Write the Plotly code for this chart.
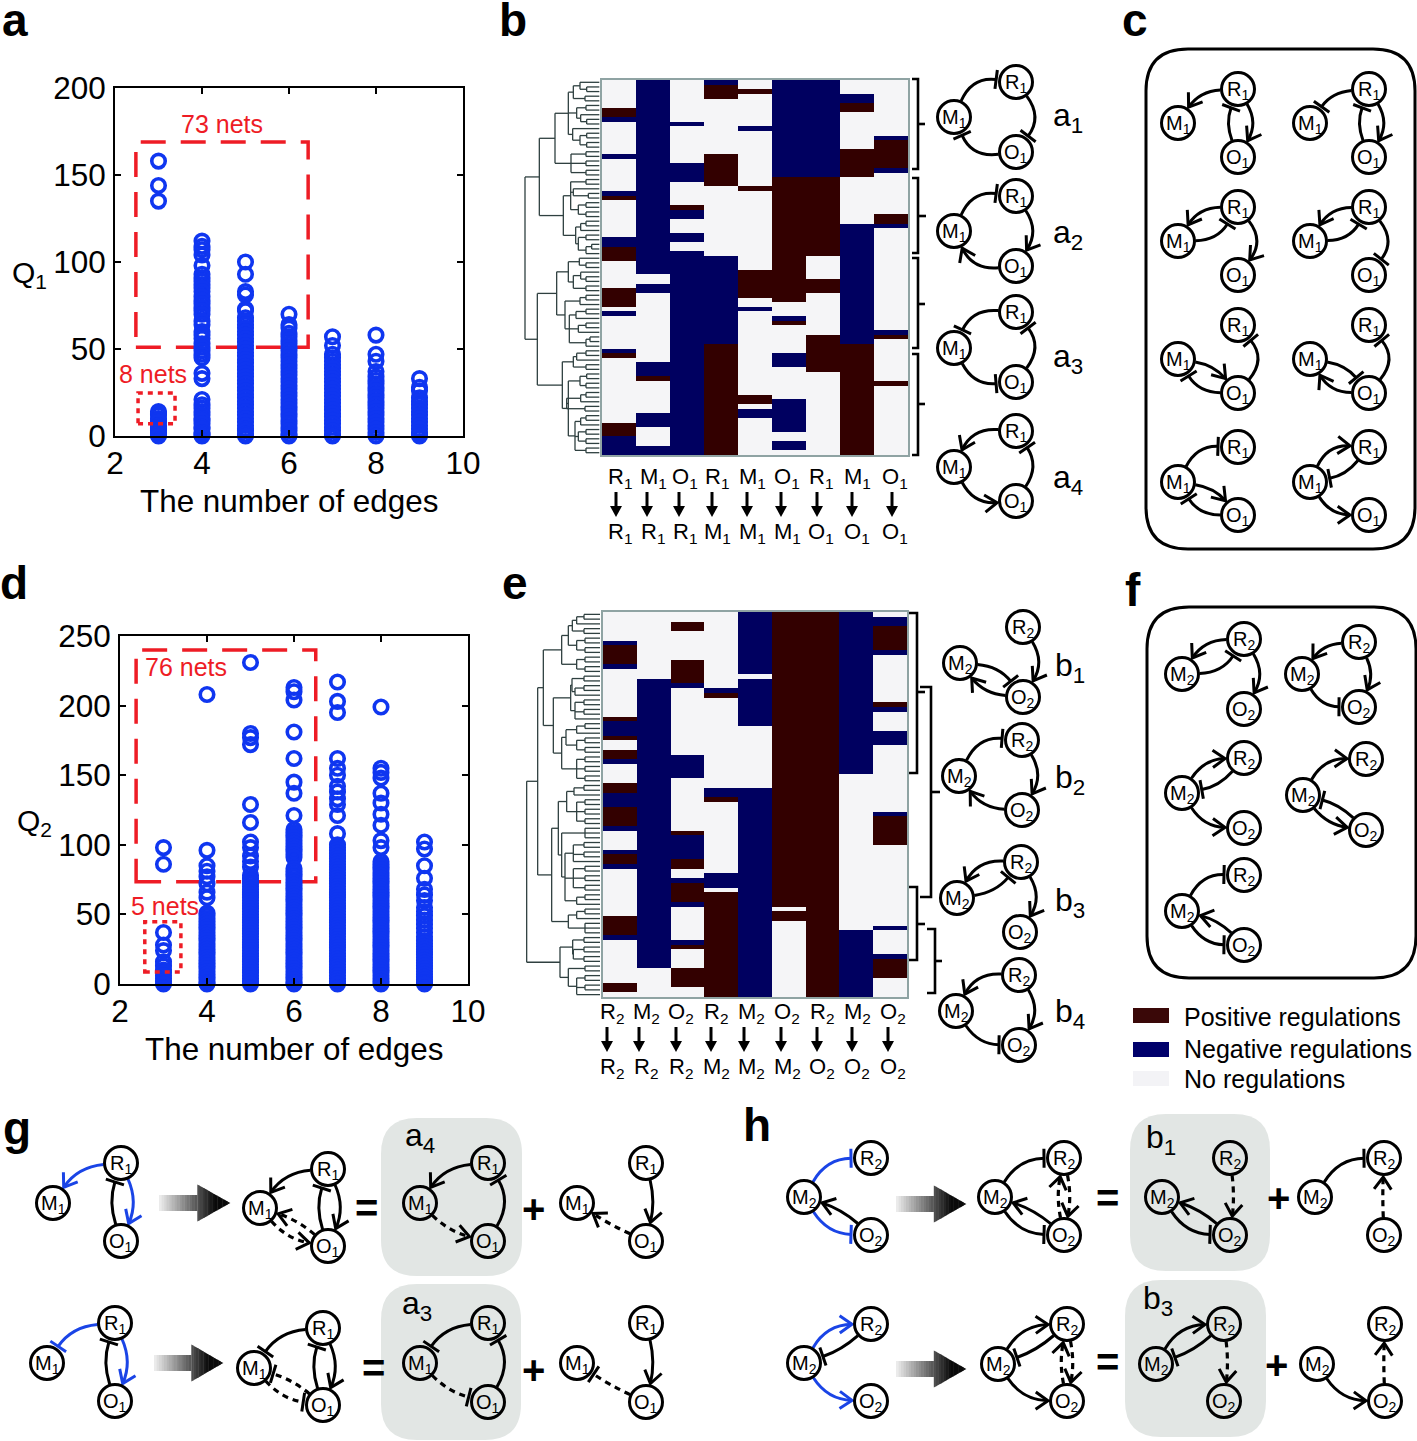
import math
import plotly.graph_objects as go

W, H = 1417, 1441
FONT = "Liberation Sans"
RED = "#ee1c25"
BLUE = "#0f36f0"
EDGE_BLUE = "#1a44e6"
POS, NEG, NONE = "#330000", "#000060", "#f5f5f7"

# ---------- scatter panels: number of edges -> Q values ----------
EDGES = [3, 4, 5, 6, 7, 8, 9]
Q1_3 = [158, 144, 135, 14, 13, 12, 10, 9, 8, 6, 5, 4, 3, 2, 1, 0]
Q1_4 = [112, 109, 107, 104, 98, 93, 91, 89, 87, 85, 83, 80, 78, 76, 74, 72, 70, 66, 64, 60, 58, 56, 53, 51, 49, 47, 45,
        36, 33, 21, 18, 16, 14, 12, 10, 9, 7, 5, 4, 2, 1, 0]
Q1_5 = [100, 93, 83, 81, 73, 72, 68, 66, 64, 62, 60, 58, 56, 54, 52, 50, 48, 46, 44, 42, 40, 38, 36, 34, 32, 30, 28, 26,
        24, 22, 20, 18, 16, 14, 12, 10, 8, 6, 4, 3, 1, 0]
Q1_6 = [70, 64, 62, 59, 57, 55, 53, 51, 49, 47, 45, 43, 41, 39, 37, 35, 33, 31, 29, 27, 25, 23, 21, 19, 17, 15, 13, 11,
        9, 7, 5, 3, 1, 0]
Q1_7 = [57, 52, 47, 45, 43, 41, 39, 37, 35, 33, 31, 29, 27, 25, 23, 21, 19, 17, 15, 13, 11, 9, 7, 5, 3, 1, 0]
Q1_8 = [58, 47, 43, 37, 34, 32, 30, 28, 26, 24, 22, 20, 18, 16, 14, 12, 10, 8, 6, 4, 2, 0]
Q1_9 = [33, 28, 26, 22, 20, 18, 16, 14, 12, 10, 8, 6, 4, 2, 1, 0]
Q1_ALL = [Q1_3, Q1_4, Q1_5, Q1_6, Q1_7, Q1_8, Q1_9]

Q2_3 = [98, 86, 37, 28, 24, 16, 13, 10, 8, 6, 4, 2, 0]
Q2_4 = [208, 96, 85, 81, 77, 72, 66, 62, 51, 49, 47, 45, 43, 41, 39, 37, 35, 33, 31, 29, 27, 25, 23, 21, 19, 17, 15, 13,
        11, 9, 7, 5, 3, 1, 0]
Q2_5 = [231, 180, 177, 172, 129, 116, 102, 98, 92, 88, 84, 78, 76, 74, 72, 70, 68, 66, 64, 62, 60, 58, 56, 54, 52, 50, 48,
        46, 44, 42, 40, 38, 36, 34, 32, 30, 28, 26, 24, 22, 20, 18, 16, 14, 12, 10, 8, 6, 4, 2, 0]
Q2_6 = [213, 210, 204, 181, 162, 145, 137, 121, 111, 109, 107, 105, 103, 101, 99, 97, 95, 93, 91, 83, 81, 79, 77, 75, 73,
        71, 69, 67, 65, 63, 61, 59, 57, 55, 53, 51, 49, 47, 45, 43, 41, 39, 37, 35, 33, 31, 29, 27, 25, 23, 21, 19, 17, 15,
        13, 11, 9, 7, 5, 3, 1, 0]
Q2_7 = [217, 203, 195, 162, 155, 150, 142, 138, 133, 129, 121, 108, 100, 98, 96, 94, 92, 90, 88, 86, 84, 82, 80, 78, 76,
        74, 72, 70, 68, 66, 64, 62, 60, 58, 56, 54, 52, 50, 48, 46, 44, 42, 40, 38, 36, 34, 32, 30, 28, 26, 24, 22, 20, 18,
        16, 14, 12, 10, 8, 6, 4, 2, 0]
Q2_8 = [199, 155, 152, 148, 137, 130, 122, 114, 103, 98, 88, 86, 84, 82, 80, 78, 76, 74, 72, 70, 68, 66, 64, 62, 60, 58,
        56, 54, 52, 50, 48, 46, 44, 42, 40, 38, 36, 34, 32, 30, 28, 26, 24, 22, 20, 18, 16, 14, 12, 10, 8, 6, 4, 2, 0]
Q2_9 = [102, 97, 85, 76, 68, 64, 60, 55, 52, 49, 46, 43, 40, 37, 34, 31, 29, 27, 25, 23, 21, 19, 17, 15, 13, 11, 9, 7, 5,
        3, 1, 0]
Q2_ALL = [Q2_3, Q2_4, Q2_5, Q2_6, Q2_7, Q2_8, Q2_9]

# dashed / dotted selection boxes in axis units: x0, x1, y0, y1
BOX_A_BIG = [2.48, 6.44, 51, 169]
BOX_A_SMALL = [2.53, 3.38, 7, 24.7]
BOX_D_BIG = [2.37, 6.5, 73.5, 240]
BOX_D_SMALL = [2.57, 3.4, 8.6, 44.7]

# ---------- heatmaps: (value, number of rows) runs per column ----------
P, N, O = 1, -1, 0
HB = [
    [(O,6),(P,2),(N,1),(O,7),(N,1),(O,7),(N,1),(P,1),(O,8),(N,2),(P,3),(O,6),(P,4),(O,1),(N,1),(O,7),(N,1),(P,1),(O,14),(P,3),(N,4)],
    [(N,42),(O,2),(N,2),(O,15),(N,3),(P,1),(O,7),(N,3),(O,4),(N,2)],
    [(O,9),(N,1),(O,8),(N,4),(O,5),(P,1),(N,2),(O,3),(N,2),(O,2),(N,44)],
    [(N,1),(P,3),(O,12),(P,7),(O,15),(N,19),(P,24)],
    [(O,2),(P,1),(O,7),(N,1),(O,12),(P,1),(O,17),(P,6),(O,2),(N,1),(O,18),(P,2),(O,1),(N,2),(O,8)],
    [(N,21),(P,27),(O,3),(N,1),(P,1),(O,6),(N,3),(O,7),(N,7),(O,2),(N,2),(O,1)],
    [(N,21),(P,17),(O,5),(P,3),(O,9),(P,8),(O,18)],
    [(O,3),(N,2),(P,2),(O,8),(P,6),(O,10),(N,26),(P,24)],
    [(O,12),(N,1),(P,6),(N,1),(O,9),(P,2),(N,1),(O,22),(N,1),(P,1),(O,9),(P,1),(O,15)],
]
HE = [
    [(O,6),(N,1),(P,4),(N,1),(O,10),(P,1),(N,3),(P,1),(O,2),(P,2),(N,1),(O,4),(P,2),(N,3),(P,4),(N,1),(O,4),(N,1),(P,2),(N,1),(O,10),(P,4),(N,1),(O,9),(P,2),(O,1)],
    [(O,14),(N,61),(O,6)],
    [(O,2),(P,2),(O,6),(P,5),(N,1),(O,14),(N,5),(O,11),(P,1),(N,5),(P,2),(O,2),(N,1),(P,4),(N,1),(O,7),(N,1),(P,1),(O,4),(P,4),(O,2)],
    [(O,16),(N,1),(P,1),(O,19),(N,2),(P,1),(O,15),(N,3),(O,1),(P,22)],
    [(N,13),(O,1),(N,10),(O,13),(N,44)],
    [(P,62),(O,1),(P,2),(O,16)],
    [(P,81)],
    [(N,34),(O,33),(N,14)],
    [(O,1),(N,2),(P,5),(N,1),(O,10),(P,1),(N,1),(O,4),(N,3),(O,14),(N,1),(P,6),(O,17),(N,1),(O,5),(N,1),(P,4),(O,4)],
]

# ---------- dendrograms: [height, child, child, ...]; 0 is a leaf ----------
A1 = [135, [175, [190, [210, 0, [230, 0, 0]], [225, 0, 0]], [200, [228, 0, 0], [212, 0, [230, 0, 0]]], [188, 0, [210, [230, 0, 0], [230, 0, 0]]]],
      [183, [228, 0, 0], [228, 0, 0], [228, 0, 0]]]
A2 = [160, [182, [228, 0, 0], [190, 0, [235, 0, 0]], [205, [228, 0, 0], [228, 0, 0]]],
      [197, [212, [228, 0, 0], 0], [205, [228, 0, 0], [228, [245, 0, 0], 0]]]]
A3 = [140, [175, [208, 0, [228, 0, 0]], [190, [212, 0, [228, 0, 0]], [228, 0, 0]]],
      [165, [210, [228, 0, 0], 0], [178, [198, [228, 0, 0], 0], [205, [228, 0, 0], 0], [228, [240, 0, 0], 0]]]]
A4 = [157, [190, [200, [228, 0, 0], 0], [228, 0, 0]],
      [175, [210, [230, 0, 0], [228, 0, 0]], [170, [212, [228, 0, 0], 0], [225, 0, 0]],
       [195, [212, [228, 0, 0], 0], [205, [228, 0, 0], [228, 0, 0]], [228, 0, 0]]]]
TREE_B = [45, [88, A1, A2], [82, A3, A4]]
TREE_B_LEAF = 268

E1 = [155, [175, [187, [200, [222, 0, 0], 0], [222, 0, 0]], [200, [225, 0, 0], [225, 0, 0]]], [200, [225, 0, 0], [225, 0, 0]]]
E2 = [182, [186, [222, 0, 0], [195, [222, 0, 0], 0]], [195, [222, 0, 0], [222, 0, 0], 0]]
E3 = [155, [168, [200, [225, 0, 0], 0], [200, [225, 0, 0], [225, 0, 0]]], [200, [225, 0, 0], [225, 0, 0], [225, 0, 0]]]
E4 = [170, [192, [222, 0, 0], 0], [200, [225, 0, 0], [225, 0, 0], [225, 0, 0]]]
E5 = [155, [225, 0, 0, 0], [165, [190, [222, 0, 0], [222, 0, 0], 0], [190, [225, 0, 0], [225, 0, 0], [225, 0, 0]], [200, [225, 0, 0], 0]]]
E6 = [175, [200, [225, 0, 0], 0], [225, 0, 0, 0]]
E7 = [150, [188, [222, 0, 0], [190, [222, 0, 0], [222, 0, 0]]], [175, [225, 0, 0], [200, [225, 0, 0], [225, 0, 0], 0]]]
TREE_E = [50, [83, [100, E1, [130, E2, E3]], [125, [145, E4, E5], E6]], E7]
TREE_E_LEAF = 272

# ---------- heatmap column labels ----------
HEAD_LETTERS = ["R", "M", "O", "R", "M", "O", "R", "M", "O"]
TAIL_LETTERS = ["R", "R", "R", "M", "M", "M", "O", "O", "O"]
B_LABEL_X = [620, 653, 685, 717, 752, 787, 821, 857, 895]
B_ARROW_X = [616, 647, 679, 712, 747, 781, 817, 852, 892]
E_LABEL_X = [612, 646, 681, 716, 751, 787, 822, 857, 893]
E_ARROW_X = [607, 639, 676, 711, 744, 781, 817, 852, 888]

# ---------- cluster brackets: x_open, x_spine, x_tick, y_top, y_tick, y_bottom ----------
BRACKETS = [
    (912, 918, 925, 79, 124, 169), (912, 918, 926, 178, 216, 253), (912, 918, 925, 258, 304, 348), (912, 918, 925, 354, 404, 455),
    (909, 917, 925, 613, 692, 773), (920, 931, 940, 687, 792, 897), (909, 917, 925, 887, 924, 960), (927, 935, 942, 929, 961, 993),
]

# ---------- networks: subscript, R, M, O, edges (from, to, kind, bend, style) ----------
NETS = [
    # series a
    (1, (1016, 82), (954, 117), (1016, 152), [("M","R","t",17,"k"), ("R","O","t",17,"k"), ("O","M","t",17,"k")]),
    (1, (1016, 196), (954, 231), (1016, 266), [("M","R","t",17,"k"), ("R","O","a",15,"k"), ("O","M","a",16,"k")]),
    (1, (1016, 312), (954, 348), (1016, 382), [("R","M","t",-16,"k"), ("M","O","t",-15,"k"), ("O","R","t",-17,"k")]),
    (1, (1016, 431), (954, 467), (1016, 501), [("R","M","a",-16,"k"), ("M","O","a",-15,"k"), ("O","R","t",-15,"k")]),
    # box c
    (1, (1238, 89), (1178, 123), (1238, 157), [("R","M","a",-11,"k"), ("O","R","t",8,"k"), ("R","O","a",13,"k")]),
    (1, (1369, 89), (1310, 123), (1369, 157), [("R","M","t",-10,"k"), ("O","R","t",8,"k"), ("R","O","a",13,"k")]),
    (1, (1238, 207), (1178, 241), (1238, 275), [("R","M","a",-12,"k"), ("M","R","t",-12,"k"), ("R","O","a",17,"k")]),
    (1, (1369, 207), (1310, 241), (1369, 275), [("R","M","a",-12,"k"), ("M","R","t",-12,"k"), ("R","O","t",17,"k")]),
    (1, (1238, 325), (1178, 359), (1238, 393), [("O","R","t",-18,"k"), ("M","O","a",8,"k"), ("O","M","t",12,"k")]),
    (1, (1369, 325), (1310, 359), (1369, 393), [("O","R","t",-18,"k"), ("M","O","t",8,"k"), ("O","M","a",12,"k")]),
    (1, (1238, 447), (1178, 482), (1238, 515), [("M","R","t",14,"k"), ("M","O","a",8,"k"), ("O","M","t",12,"k")]),
    (1, (1369, 447), (1310, 482), (1369, 515), [("M","R","a",15,"k"), ("R","M","t",8,"k"), ("M","O","a",-12,"k")]),
    # series b
    (2, (1023, 627), (960, 663), (1023, 697), [("R","O","a",14,"k"), ("M","O","t",10,"k"), ("O","M","a",10,"k")]),
    (2, (1022, 740), (959, 776), (1022, 810), [("M","R","t",16,"k"), ("R","O","a",14,"k"), ("O","M","a",11,"k")]),
    (2, (1021, 862), (957, 898), (1020, 932), [("R","M","a",-15,"k"), ("M","R","t",-9,"k"), ("R","O","a",14,"k")]),
    (2, (1019, 975), (956, 1011), (1019, 1045), [("R","M","a",-15,"k"), ("R","O","a",14,"k"), ("M","O","t",-12,"k")]),
    # box f
    (2, (1244, 639), (1182, 674), (1244, 709), [("R","M","a",-12,"k"), ("M","R","t",-12,"k"), ("R","O","a",14,"k")]),
    (2, (1359, 642), (1302, 674), (1359, 707), [("R","M","a",-10,"k"), ("R","O","a",10,"k"), ("M","O","t",-12,"k")]),
    (2, (1244, 758), (1182, 793), (1244, 828), [("M","R","a",12,"k"), ("R","M","t",8,"k"), ("M","O","a",-12,"k")]),
    (2, (1366, 759), (1303, 795), (1366, 830), [("M","R","a",14,"k"), ("O","M","t",-6,"k"), ("M","O","a",-9,"k")]),
    (2, (1244, 875), (1182, 911), (1244, 945), [("M","R","t",14,"k"), ("O","M","a",-6,"k"), ("M","O","t",-12,"k")]),
    # panel g
    (1, (121, 1163), (53, 1203), (121, 1241), [("R","M","a",-12,"b"), ("O","R","t",8,"k"), ("R","O","a",11,"b")]),
    (1, (328, 1169), (260, 1208), (328, 1246), [("R","M","a",-12,"k"), ("O","R","t",8,"k"), ("R","O","a",11,"k"), ("O","M","a",-5,"d"), ("M","O","a",-9,"d")]),
    (1, (488, 1163), (420, 1203), (488, 1241), [("R","M","a",-12,"k"), ("O","R","t",-15,"k"), ("M","O","a",-7,"d")]),
    (1, (646, 1163), (577, 1203), (646, 1241), [("R","O","a",6,"k"), ("O","M","a",2,"d")]),
    (1, (115, 1323), (47, 1363), (115, 1401), [("R","M","t",-12,"b"), ("O","R","t",8,"k"), ("R","O","a",11,"b")]),
    (1, (323, 1328), (254, 1368), (323, 1405), [("R","M","t",-12,"k"), ("O","R","t",8,"k"), ("R","O","a",11,"k"), ("O","M","t",-5,"d"), ("M","O","t",-9,"d")]),
    (1, (488, 1323), (420, 1363), (488, 1402), [("R","M","t",-12,"k"), ("O","R","t",-15,"k"), ("M","O","t",-7,"d")]),
    (1, (646, 1323), (577, 1363), (646, 1402), [("R","O","a",6,"k"), ("O","M","t",2,"d")]),
    # panel h
    (2, (871, 1158), (804, 1197), (871, 1235), [("M","R","t",14,"b"), ("O","M","a",-5,"k"), ("M","O","t",-13,"b")]),
    (2, (1064, 1158), (995, 1197), (1064, 1235), [("M","R","t",14,"k"), ("O","M","a",-5,"k"), ("M","O","t",-13,"k"), ("R","O","a",5,"d"), ("O","R","a",5,"d")]),
    (2, (1230, 1158), (1162, 1197), (1230, 1235), [("R","O","a",3,"d"), ("O","M","a",-5,"k"), ("M","O","t",-13,"k")]),
    (2, (1384, 1158), (1315, 1197), (1384, 1235), [("M","R","t",14,"k"), ("O","R","a",1,"d")]),
    (2, (871, 1324), (804, 1363), (871, 1401), [("M","R","a",14,"b"), ("R","M","t",5,"k"), ("M","O","a",-13,"b")]),
    (2, (1067, 1324), (998, 1364), (1067, 1401), [("M","R","a",14,"k"), ("R","M","t",5,"k"), ("M","O","a",-13,"k"), ("R","O","a",5,"d"), ("O","R","a",5,"d")]),
    (2, (1224, 1324), (1156, 1364), (1224, 1401), [("M","R","a",14,"k"), ("R","M","t",5,"k"), ("R","O","a",3,"d")]),
    (2, (1385, 1324), (1317, 1364), (1385, 1401), [("M","O","a",-13,"k"), ("O","R","a",1,"d")]),
]
BEND_SCALE = 0.78

# rounded panels: x0, x1, y0, y1, corner, stroke, fill
PANELS = [
    (1146, 1415, 49, 549, 42, "black", "rgba(0,0,0,0)"),
    (1147, 1416, 607, 978, 42, "black", "rgba(0,0,0,0)"),
    (381, 522, 1118, 1276, 36, None, "#e2e6e4"),
    (381, 521, 1284, 1440, 36, None, "#e2e6e4"),
    (1130, 1270, 1114, 1271, 36, None, "#e2e6e4"),
    (1125, 1266, 1280, 1437, 36, None, "#e2e6e4"),
]

# gradient block arrows: x0, x1, y centre
BLOCK_ARROWS = [(159, 230, 1203), (154, 223, 1363), (896, 966, 1204), (896, 966, 1369)]

# plain text: text, x, y, size, colour, bold
TEXTS = [
    ("a", 15, 20, 46, "black", True), ("b", 513, 20, 46, "black", True), ("c", 1135, 20, 46, "black", True),
    ("d", 14, 583, 46, "black", True), ("e", 515, 583, 46, "black", True), ("f", 1133, 590, 46, "black", True),
    ("g", 17, 1128, 46, "black", True), ("h", 757, 1125, 46, "black", True),
    ("The number of edges", 289, 501, 31.4, "black", False), ("The number of edges", 294, 1049, 31.4, "black", False),
    ("Q<sub>1</sub>", 29, 274, 30, "black", False), ("Q<sub>2</sub>", 34, 822, 30, "black", False),
    ("73 nets", 222, 124, 25, RED, False), ("8 nets", 153, 374, 25, RED, False),
    ("76 nets", 186, 667, 25, RED, False), ("5 nets", 165, 906, 25, RED, False),
    ("a<sub>1</sub>", 1068, 117, 32, "black", False), ("a<sub>2</sub>", 1068, 234, 32, "black", False),
    ("a<sub>3</sub>", 1068, 358, 32, "black", False), ("a<sub>4</sub>", 1068, 479, 32, "black", False),
    ("b<sub>1</sub>", 1070, 667, 32, "black", False), ("b<sub>2</sub>", 1070, 779, 32, "black", False),
    ("b<sub>3</sub>", 1070, 902, 32, "black", False), ("b<sub>4</sub>", 1070, 1013, 32, "black", False),
    ("a<sub>4</sub>", 420, 1137, 32, "black", False), ("a<sub>3</sub>", 417, 1305, 32, "black", False),
    ("b<sub>1</sub>", 1161, 1139, 32, "black", False), ("b<sub>3</sub>", 1158, 1300, 32, "black", False),
    ("=", 366, 1208, 40, "black", True), ("+", 533, 1209, 40, "black", True),
    ("=", 373, 1368, 40, "black", True), ("+", 533, 1370, 40, "black", True),
    ("=", 1107, 1198, 40, "black", True), ("+", 1278, 1198, 40, "black", True),
    ("=", 1107, 1362, 40, "black", True), ("+", 1276, 1365, 40, "black", True),
]

# legend: label, swatch colour, swatch top, swatch bottom, text y
LEGEND = [
    ("Positive regulations", "#3a0808", 1008, 1023, 1017),
    ("Negative regulations", "#00006b", 1042, 1057, 1049),
    ("No regulations", "#f3f3f6", 1071, 1086, 1079),
]
LEGEND_SWATCH_X = (1133, 1169)
LEGEND_TEXT_X = 1182

R_NODE = 16.5

# ------------------------------------------------------------------
shapes, annos = [], []
OV = dict(xref="x7", yref="y7")


def text(s, x, y, size, color="black", bold=False):
    t = f"<b>{s}</b>" if bold else s
    annos.append(dict(text=t, x=x, y=y, showarrow=False, xanchor="center", yanchor="middle",
                      font=dict(family=FONT, size=size, color=color), **OV))


def unit(x, y):
    L = math.hypot(x, y) or 1.0
    return x / L, y / L


def draw_edge(a, b, kind, bend, style):
    color = {"k": "black", "b": EDGE_BLUE, "d": "black"}[style]
    bend = bend * BEND_SCALE
    dx, dy = b[0] - a[0], b[1] - a[1]
    ux, uy = unit(dx, dy)
    nx, ny = uy, -ux
    cx, cy = (a[0] + b[0]) / 2 + nx * bend * 2, (a[1] + b[1]) / 2 + ny * bend * 2
    s = unit(cx - a[0], cy - a[1])
    e = unit(cx - b[0], cy - b[1])
    gap = 3.5 if kind == "t" else 2.5
    x0, y0 = a[0] + s[0] * (R_NODE + 1), a[1] + s[1] * (R_NODE + 1)
    x1, y1 = b[0] + e[0] * (R_NODE + gap), b[1] + e[1] * (R_NODE + gap)
    line = dict(color=color, width=3.2 if style == "d" else 3)
    if style == "d":
        line["dash"] = "6px,5px"
    shapes.append(dict(type="path", path=f"M{x0:.1f},{y0:.1f} Q{cx:.1f},{cy:.1f} {x1:.1f},{y1:.1f}",
                       line=line, layer="above", **OV))
    tx, ty = unit(x1 - cx, y1 - cy)
    solid = dict(color=color, width=3)
    if kind == "t":
        px, py = -ty, tx
        shapes.append(dict(type="line", x0=x1 - px * 9.5, y0=y1 - py * 9.5, x1=x1 + px * 9.5, y1=y1 + py * 9.5,
                           line=solid, layer="above", **OV))
    else:
        ang = math.radians(35)
        pts = []
        for sgn in (1, -1):
            c, sn = math.cos(sgn * ang), math.sin(sgn * ang)
            pts.append((x1 - (tx * c - ty * sn) * 15, y1 - (tx * sn + ty * c) * 15))
        shapes.append(dict(type="path", path=f"M{pts[0][0]:.1f},{pts[0][1]:.1f} L{x1:.1f},{y1:.1f} L{pts[1][0]:.1f},{pts[1][1]:.1f}",
                           line=solid, layer="above", **OV))


def draw_net(sub, R, M, Onode, edges):
    pos = {"R": R, "M": M, "O": Onode}
    for (f, t, k, bnd, st) in edges:
        draw_edge(pos[f], pos[t], k, bnd, st)
    for name, p in pos.items():
        shapes.append(dict(type="circle", x0=p[0] - R_NODE, x1=p[0] + R_NODE, y0=p[1] - R_NODE, y1=p[1] + R_NODE,
                           line=dict(color="black", width=3), fillcolor="rgba(0,0,0,0)", layer="above", **OV))
        text(f"{name}<sub>{sub}</sub>", p[0], p[1] + 1, 20)


def rounded(x0, x1, y0, y1, r, stroke, fill):
    p = (f"M{x0+r},{y0} L{x1-r},{y0} Q{x1},{y0} {x1},{y0+r} L{x1},{y1-r} Q{x1},{y1} {x1-r},{y1} "
         f"L{x0+r},{y1} Q{x0},{y1} {x0},{y1-r} L{x0},{y0+r} Q{x0},{y0} {x0+r},{y0} Z")
    shapes.append(dict(type="path", path=p, fillcolor=fill,
                       line=dict(color=stroke, width=3) if stroke else dict(width=0), layer="above", **OV))


def block_arrow(x0, x1, yc):
    n = 28
    xh = x0 + (x1 - x0) * 0.54
    half_head, half_shaft = 18.5, 8
    for i in range(n):
        a = x0 + (x1 - x0) * i / n
        b = x0 + (x1 - x0) * (i + 1) / n
        g = int(235 - 225 * min(1, (i / (n - 1)) * 1.25))
        col = f"rgb({g},{g},{g})"
        if b <= xh:
            h0 = h1 = half_shaft
        else:
            a2 = max(a, xh)
            h0 = half_head * (x1 - a2) / (x1 - xh)
            h1 = half_head * (x1 - b) / (x1 - xh)
            a = a2
        shapes.append(dict(type="path", path=f"M{a:.1f},{yc-h0:.1f} L{b+0.4:.1f},{yc-h1:.1f} L{b+0.4:.1f},{yc+h1:.1f} L{a:.1f},{yc+h0:.1f} Z",
                           fillcolor=col, line=dict(width=0), layer="above", **OV))


def expand(runs):
    out = []
    for v, c in runs:
        out += [v] * c
    assert len(out) == 81
    return out


def matrix(cols):
    c = [expand(r) for r in cols]
    return [[c[j][i] for j in range(len(c))] for i in range(81)]


def tree_lines(tree, leaf_h):
    xs, ys = [], []
    row = [0]

    def walk(node):
        if node == 0:
            y = row[0]
            row[0] += 1
            return y, leaf_h
        h = node[0]
        kids = [walk(k) for k in node[1:]]
        for ky, kh in kids:
            xs.extend([h, kh, None])
            ys.extend([ky, ky, None])
        kys = [k[0] for k in kids]
        xs.extend([h, h, None])
        ys.extend([min(kys), max(kys), None])
        return (min(kys) + max(kys)) / 2, h

    walk(tree)
    assert row[0] == 81
    return xs, ys


def dom_x(a, b):
    return [a / W, b / W]


def dom_y(top, bottom):
    return [1 - bottom / H, 1 - top / H]


fig = go.Figure()


def scatter_traces(series, xa, ya):
    for x, vals in zip(EDGES, series):
        fig.add_trace(go.Scatter(x=[x] * len(vals), y=vals, mode="markers", xaxis=xa, yaxis=ya, cliponaxis=False,
                                 showlegend=False, hoverinfo="skip",
                                 marker=dict(symbol="circle-open", size=13.5, color=BLUE, line=dict(width=3.6, color=BLUE))))


scatter_traces(Q1_ALL, "x", "y")
scatter_traces(Q2_ALL, "x2", "y2")

COLORSCALE = [[0, NEG], [0.33, NEG], [0.33, NONE], [0.66, NONE], [0.66, POS], [1, POS]]
for cols, xa, ya in ((HB, "x3", "y3"), (HE, "x4", "y4")):
    fig.add_trace(go.Heatmap(z=matrix(cols), xaxis=xa, yaxis=ya, zmin=-1, zmax=1, colorscale=COLORSCALE,
                             showscale=False, hoverinfo="skip"))

xs, ys = tree_lines(TREE_B, TREE_B_LEAF)
fig.add_trace(go.Scatter(x=xs, y=ys, xaxis="x5", yaxis="y3", mode="lines", line=dict(color="#2f4040", width=1.3),
                         showlegend=False, hoverinfo="skip"))
xs, ys = tree_lines(TREE_E, TREE_E_LEAF)
fig.add_trace(go.Scatter(x=xs, y=ys, xaxis="x6", yaxis="y4", mode="lines", line=dict(color="#2f4040", width=1.3),
                         showlegend=False, hoverinfo="skip"))
fig.add_trace(go.Scatter(x=[0], y=[0], xaxis="x7", yaxis="y7", mode="markers", marker=dict(opacity=0),
                         showlegend=False, hoverinfo="skip"))

# selection boxes
for box, xa, ya, dash, layer in (
    (BOX_A_BIG, "x", "y", "25px,15px", "below"), (BOX_A_SMALL, "x", "y", "5px,5px", "above"),
    (BOX_D_BIG, "x2", "y2", "25px,15px", "below"), (BOX_D_SMALL, "x2", "y2", "5px,5px", "above"),
):
    shapes.append(dict(type="rect", xref=xa, yref=ya, x0=box[0], x1=box[1], y0=box[2], y1=box[3],
                       line=dict(color=RED, width=3.5, dash=dash), layer=layer))

for p in PANELS:
    rounded(*p)
for arrow in BLOCK_ARROWS:
    block_arrow(*arrow)
for n in NETS:
    draw_net(*n)
for (xo, xs_, xt, yt, ym, yb) in BRACKETS:
    shapes.append(dict(type="path", path=f"M{xo},{yt} L{xs_},{yt} L{xs_},{yb} L{xo},{yb}",
                       line=dict(color="black", width=2.6), layer="above", **OV))
    shapes.append(dict(type="line", x0=xs_, x1=xt, y0=ym, y1=ym, line=dict(color="black", width=2.6), layer="above", **OV))


def col_labels(sub, label_x, arrow_x, y_top, y_a0, y_a1, y_bottom):
    for h, t, lx, ax in zip(HEAD_LETTERS, TAIL_LETTERS, label_x, arrow_x):
        text(f"{h}<sub>{sub}</sub>", lx, y_top, 22)
        text(f"{t}<sub>{sub}</sub>", lx, y_bottom, 22)
        shapes.append(dict(type="line", x0=ax, x1=ax, y0=y_a0, y1=y_a1 - 8, line=dict(color="black", width=3),
                           layer="above", **OV))
        shapes.append(dict(type="path", path=f"M{ax-6},{y_a1-11} L{ax+6},{y_a1-11} L{ax},{y_a1} Z", fillcolor="black",
                           line=dict(width=0), layer="above", **OV))


col_labels(1, B_LABEL_X, B_ARROW_X, 478, 492, 517, 533)
col_labels(2, E_LABEL_X, E_ARROW_X, 1013, 1027, 1052, 1068)

for label, col, top, bot, ty in LEGEND:
    shapes.append(dict(type="rect", x0=LEGEND_SWATCH_X[0], x1=LEGEND_SWATCH_X[1], y0=top, y1=bot, fillcolor=col,
                       line=dict(width=0), layer="above", **OV))
    annos.append(dict(text=label, x=LEGEND_TEXT_X, y=ty, xanchor="left", yanchor="middle", showarrow=False,
                      font=dict(family=FONT, size=25, color="black"), **OV))

for t in TEXTS:
    text(*t)

TICK = dict(ticks="inside", ticklen=6, tickwidth=1.5, tickcolor="black", showline=True, linecolor="black", linewidth=2,
            mirror="ticks", showgrid=False, zeroline=False, automargin=False,
            tickfont=dict(family=FONT, size=31.5, color="black"))
HIDE = dict(visible=False, fixedrange=True, automargin=False)
HM_AX = dict(showline=True, linecolor="#8fa3a3", linewidth=1.5, mirror=True, ticks="", showticklabels=False,
             showgrid=False, zeroline=False, automargin=False)

fig.update_layout(
    template="none",
    width=W, height=H, autosize=False, margin=dict(l=0, r=0, t=0, b=0, pad=0, autoexpand=False),
    paper_bgcolor="white", plot_bgcolor="rgba(0,0,0,0)",
    showlegend=False, shapes=shapes, annotations=annos,
    xaxis=dict(domain=dom_x(115, 463), range=[2, 10], tickvals=[2, 4, 6, 8, 10], anchor="y", ticklabelstandoff=-2, **TICK),
    yaxis=dict(domain=dom_y(88, 436), range=[0, 200], tickvals=[0, 50, 100, 150, 200], anchor="x", ticklabelstandoff=1, **TICK),
    xaxis2=dict(domain=dom_x(120, 468), range=[2, 10], tickvals=[2, 4, 6, 8, 10], anchor="y2", ticklabelstandoff=-2, **TICK),
    yaxis2=dict(domain=dom_y(636, 984), range=[0, 250], tickvals=[0, 50, 100, 150, 200, 250], anchor="x2", ticklabelstandoff=1, **TICK),
    xaxis3=dict(domain=dom_x(602, 908), range=[-0.5, 8.5], anchor="y3", **HM_AX),
    yaxis3=dict(domain=dom_y(80, 455), range=[80.5, -0.5], anchor="x3", **HM_AX),
    xaxis4=dict(domain=dom_x(603, 907), range=[-0.5, 8.5], anchor="y4", **HM_AX),
    yaxis4=dict(domain=dom_y(612, 997), range=[80.5, -0.5], anchor="x4", **HM_AX),
    xaxis5=dict(domain=dom_x(510, 600), range=[0, 270], anchor="y3", **HIDE),
    xaxis6=dict(domain=dom_x(510, 600), range=[0, 270], anchor="y4", **HIDE),
    xaxis7=dict(domain=[0, 1], range=[0, W], anchor="y7", **HIDE),
    yaxis7=dict(domain=[0, 1], range=[H, 0], anchor="x7", **HIDE),
)

fig.write_html("out.html", post_script="document.body.style.margin='0';", config=dict(displayModeBar=False))
